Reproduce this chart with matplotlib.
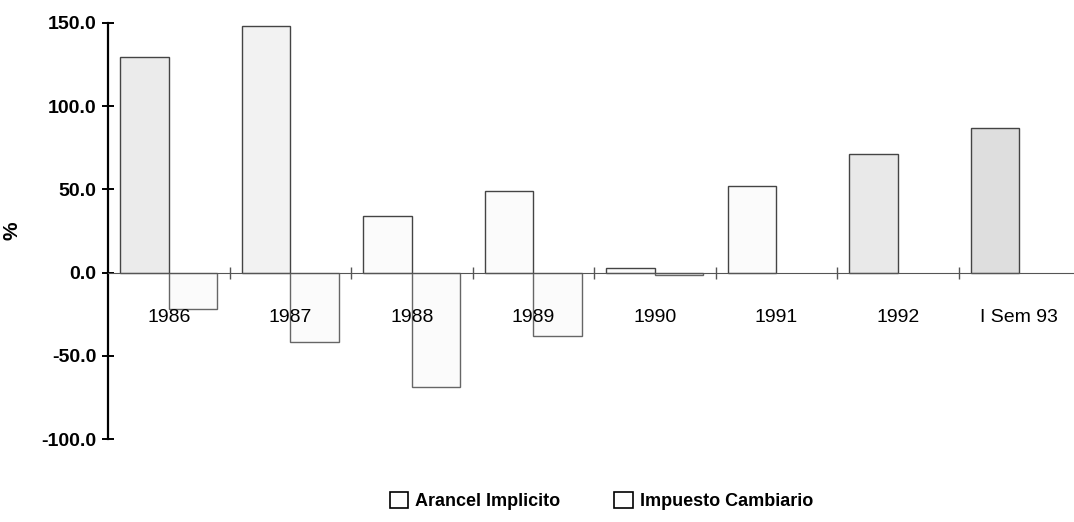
import numpy as np
import matplotlib
matplotlib.use("Agg")
import matplotlib.pyplot as plt
from matplotlib.patches import Patch

# Data
categories = ["1986", "1987", "1988", "1989", "1990", "1991", "1992", "I Sem 93"]
arancel = [129.5, 148.0, 34.0, 49.0, 3.0, 52.0, 71.0, 87.0]
impuesto = [-22.0, -42.0, -69.0, -38.0, -1.5, np.nan, np.nan, np.nan]

# Scan-like fill shades for the Arancel bars
arancel_fill = ["#ebebeb", "#f2f2f2", "#fbfbfb", "#fbfbfb", "#fbfbfb", "#fbfbfb", "#e9e9e9", "#dedede"]

plt.rcParams["font.family"] = ["Liberation Sans", "DejaVu Sans"]

fig = plt.figure(figsize=(10.74, 5.22), dpi=100)
ax = fig.add_axes([0.1006, 0.159, 0.8994, 0.797])

x = np.arange(len(categories))
w = 0.4
ax.bar(x - w / 2, arancel, width=w, color=arancel_fill, edgecolor="#444444", linewidth=1.0)
ax.bar(x + w / 2, impuesto, width=w, color="#fbfbfb", edgecolor="#666666", linewidth=1.0)

ax.set_xlim(-0.5, 7.45)
ax.set_ylim(-100, 150)

# Spines
ax.spines["top"].set_visible(False)
ax.spines["right"].set_visible(False)
ax.spines["bottom"].set_position(("data", 0))
ax.spines["bottom"].set_color("#555555")
ax.spines["left"].set_linewidth(1.6)

# y axis
ax.set_yticks([-100, -50, 0, 50, 100, 150])
ax.set_yticklabels([f"{v:.1f}" for v in [-100, -50, 0, 50, 100, 150]],
                   fontsize=14, fontweight="bold")
ax.tick_params(axis="y", direction="inout", length=9, width=1.4, pad=4)
ax.set_ylabel("%", fontsize=15, fontweight="bold", labelpad=14)

# x axis: tick marks at group boundaries, labels at group centres
ax.set_xticks(np.arange(0.5, len(categories) - 0.5, 1.0))
ax.set_xticklabels([])
ax.tick_params(axis="x", which="major", direction="inout", length=8, width=1.0, color="#555555")
ax.set_xticks(x, minor=True)
ax.set_xticklabels(categories, minor=True, fontsize=14)
ax.tick_params(axis="x", which="minor", length=0, pad=26)

handles = [Patch(facecolor="white", edgecolor="black", linewidth=1.2, label="Arancel Implicito"),
           Patch(facecolor="white", edgecolor="black", linewidth=1.2, label="Impuesto Cambiario")]
fig.legend(handles=handles, loc="center", bbox_to_anchor=(0.56, 0.04), ncol=2, frameon=False,
           prop={"size": 13, "weight": "bold"}, handlelength=1.0, handleheight=1.0,
           handletextpad=0.4, columnspacing=3.0)

fig.savefig("out.png", dpi=100)
